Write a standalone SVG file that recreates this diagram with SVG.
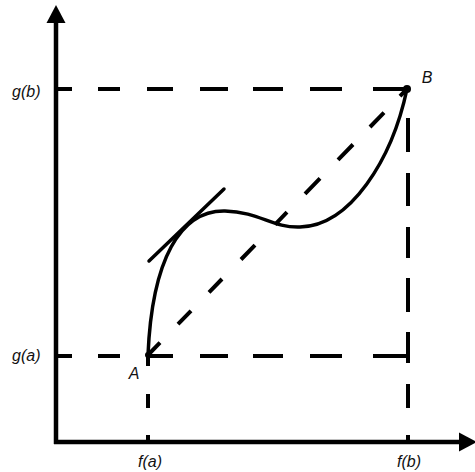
<svg xmlns="http://www.w3.org/2000/svg" width="475" height="472" viewBox="0 0 475 472">
  <style>
    .axis { stroke: #000; stroke-width: 4.5; fill: none; }
    .dash { stroke: #000; stroke-width: 4; fill: none; }
    .curve { stroke: #000; stroke-width: 3.5; fill: none; stroke-linecap: round; }
    .lbl { font-family: "Liberation Sans", Arial, sans-serif; font-style: italic; font-size: 16px; fill: #111; }
  </style>
  <rect width="475" height="472" fill="#fff"/>
  <g id="axes">
    <line class="axis" x1="56" y1="444" x2="56" y2="20"/>
    <polygon points="56,5 46.5,23 65.5,23" fill="#000"/>
    <line class="axis" x1="54" y1="442" x2="462" y2="442"/>
    <polygon points="477,442 459,432.5 459,451.5" fill="#000"/>
  </g>
  <g id="connectors">
    <path id="gb-line" class="dash" d="M56 89 H72 M98 89 H120 M147 89 H173 M200 89 H228 M253 89 H283 M310 89 H342 M373 89 H405"/>
    <path id="ga-line" class="dash" d="M56 356 H72 M98 356 H120 M147 356 H173 M200 356 H228 M253 356 H283 M310 356 H342 M373 356 H407"/>
    <path id="fb-line" class="dash" d="M408 118 V152 M408 173 V206 M408 227 V258 M408 278 V312 M408 332 V363 M408 384 V408 M408 435 V442"/>
    <path id="fa-line" class="dash" d="M148 355 V366 M148 394 V408 M148 435 V442"/>
    <path id="secant" class="dash" d="M148 355 L160 342.7 M178 324.2 L191 310.8 M209 292.4 L222 279 M241 259.5 L255 245.1 M275 224.6 L287 212.2 M305 193.8 L320 178.4 M338 159.9 L353 144.5 M370 127 L384 112.6 M400 96.2 L407 89"/>
    <line id="tangent" class="curve" x1="149" y1="261" x2="224" y2="189" stroke-linecap="butt"/>
    <path id="curve" class="curve" d="M148 355 C152 260, 180 210, 225 211 C260 212, 272 228, 300 227 C350 226, 392 160, 407 89"/>
  </g>
  <g id="node-A">
    <circle cx="148" cy="355" r="3" fill="#000"/>
    <text class="lbl" x="134" y="379" text-anchor="middle">A</text>
  </g>
  <g id="node-B">
    <circle cx="407" cy="89" r="4" fill="#000"/>
    <text class="lbl" x="427" y="83" text-anchor="middle">B</text>
  </g>
  <g id="labels">
    <text class="lbl" x="12" y="97">g(b)</text>
    <text class="lbl" x="12" y="361">g(a)</text>
    <text class="lbl" x="150" y="467" text-anchor="middle">f(a)</text>
    <text class="lbl" x="409" y="467" text-anchor="middle">f(b)</text>
  </g>
</svg>
